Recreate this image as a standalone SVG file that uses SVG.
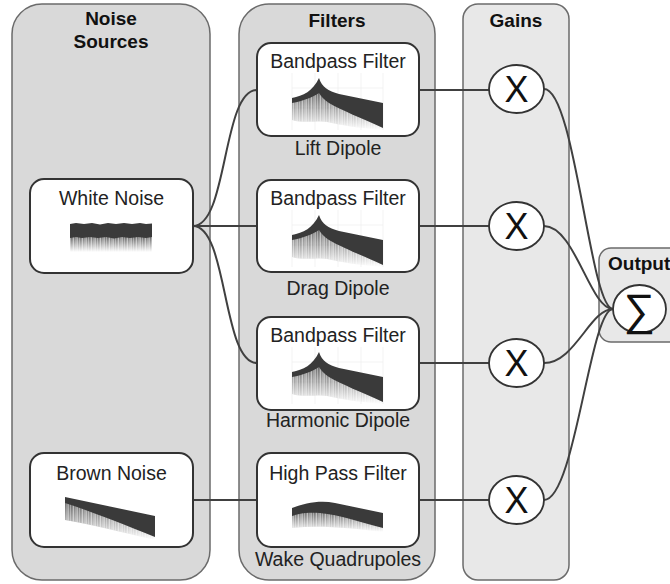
<svg xmlns="http://www.w3.org/2000/svg" width="670" height="584" viewBox="0 0 670 584">
<style>
.cont{fill:#d9d9d9;stroke:#6b6b6b;stroke-width:1.5}
.cont2{fill:#e8e8e8;stroke:#6b6b6b;stroke-width:1.5}
.node{fill:#ffffff;stroke:#333333;stroke-width:2}
.gain{fill:#ffffff;stroke:#333333;stroke-width:1.8}
.title{font-family:"Liberation Sans",Arial,sans-serif;font-weight:bold;font-size:19px;fill:#111;text-anchor:middle}
.lbl{font-family:"Liberation Sans",Arial,sans-serif;font-size:19.5px;fill:#222;text-anchor:middle}
.sym{font-family:"Liberation Sans",Arial,sans-serif;fill:#111;text-anchor:middle}
.wire{fill:none;stroke:#404040;stroke-width:2}
.band{fill:#3a3a3a}
.fringe{fill:url(#fade)}
.streak{fill:url(#streaks)}
.grid{stroke:#f0f0f0;stroke-width:0.8;fill:none}
</style>
<defs>
<linearGradient id="fade" x1="0" y1="0" x2="0" y2="1">
<stop offset="0" stop-color="#3a3a3a" stop-opacity="0.8"/>
<stop offset="1" stop-color="#3a3a3a" stop-opacity="0"/>
</linearGradient>
<pattern id="streaks" patternUnits="userSpaceOnUse" width="9" height="10">
<rect x="0.8" y="0" width="0.9" height="10" fill="#ffffff" fill-opacity="0.7"/>
<rect x="2.9" y="0" width="0.6" height="10" fill="#ffffff" fill-opacity="0.45"/>
<rect x="4.6" y="0" width="1" height="10" fill="#ffffff" fill-opacity="0.65"/>
<rect x="7.0" y="0" width="0.7" height="10" fill="#ffffff" fill-opacity="0.5"/>
</pattern>
<g id="bp">
<path class="grid" d="M-27,-5V52M-4,-5V52M19,-5V52M42,-5V52M64,-5V52M-27,10H64M-27,30H64"/>
<path id="bpf" class="fringe" d="M-27,23 C-15,21 -6,17 0,12 C4,16 10,22 20,27 L64,48 L64,52 C40,50 20,47 8,44 C0,42 -15,46 -27,42 Z"/>
<path class="streak" d="M-27,23 C-15,21 -6,17 0,12 C4,16 10,22 20,27 L64,48 L64,52 C40,50 20,47 8,44 C0,42 -15,46 -27,42 Z"/>
<path class="band" d="M-27,20 C-16,18 -6,13 0,0 C3,9 9,13 20,16 L64,25 L64,50 C42,40 22,32 10,25 C5,22 2,18 0,15 C-6,19 -16,23 -27,25 Z"/>
</g>
</defs>

<g id="noise-sources">
<rect class="cont" x="12" y="4" width="198" height="576" rx="30"/>
<text class="title" x="111" y="25">Noise</text>
<text class="title" x="111" y="48">Sources</text>
</g>
<g id="filters">
<rect class="cont" x="239" y="4" width="196" height="576" rx="30"/>
<text class="title" x="337" y="27">Filters</text>
</g>
<g id="gains">
<rect class="cont2" x="463" y="4" width="106" height="576" rx="15"/>
<text class="title" x="516" y="27">Gains</text>
</g>
<g id="output">
<rect class="cont2" x="599" y="248" width="90" height="94" rx="12"/>
<text class="title" x="608" y="270" style="text-anchor:start">Output</text>
</g>

<g id="connectors">
<path class="wire" d="M193,226 C228,226 222,90 257,90"/>
<path class="wire" d="M193,226 H257"/>
<path class="wire" d="M193,226 C228,226 222,363 257,363"/>
<path class="wire" d="M193,500 H257"/>
<path class="wire" d="M419,90 H490"/>
<path class="wire" d="M419,226 H490"/>
<path class="wire" d="M419,363 H490"/>
<path class="wire" d="M419,500 H490"/>
<path class="wire" d="M544,89 C575,89 590,309 613,309"/>
<path class="wire" d="M544,226 C575,226 590,309 613,309"/>
<path class="wire" d="M544,363 C575,363 590,309 613,309"/>
<path class="wire" d="M544,500 C575,500 590,309 613,309"/>
</g>

<g id="white-noise">
<rect class="node" x="30" y="179" width="163" height="94" rx="14"/>
<text class="lbl" x="111.5" y="205">White Noise</text>
<rect class="fringe" x="70" y="236" width="82" height="16"/>
<rect class="streak" x="70" y="236" width="82" height="16"/>
<path class="band" d="M70,224 L76,223 L84,224 L92,223 L100,224.5 L108,223 L116,224 L124,223 L132,224 L140,223 L146,224 L152,223.5 L152,237 L146,238 L138,237 L130,238 L122,237 L114,238.5 L106,237 L98,238 L90,237 L82,238 L76,237 L70,238 Z"/>
</g>
<g id="brown-noise">
<rect class="node" x="30" y="453" width="163" height="94" rx="14"/>
<text class="lbl" x="111.5" y="480">Brown Noise</text>
<path class="fringe" d="M65,501 C90,508 120,520 155,533 L155,540 C120,532 90,524 65,520 Z"/>
<path class="streak" d="M65,501 C90,508 120,520 155,533 L155,540 C120,532 90,524 65,520 Z"/>
<path class="band" d="M65,497 L155,516 L155,537 C120,523 90,511 65,503 Z"/>
</g>

<g id="lift-filter">
<rect class="node" x="257" y="43" width="162" height="93" rx="14"/>
<text class="lbl" x="338" y="68">Bandpass Filter</text>
<use href="#bp" x="319" y="78"/>
<text class="lbl" x="338" y="155">Lift Dipole</text>
</g>
<g id="drag-filter">
<rect class="node" x="257" y="180" width="162" height="92" rx="14"/>
<text class="lbl" x="338" y="205">Bandpass Filter</text>
<use href="#bp" x="319" y="215"/>
<text class="lbl" x="338" y="295">Drag Dipole</text>
</g>
<g id="harmonic-filter">
<rect class="node" x="257" y="317" width="162" height="93" rx="14"/>
<text class="lbl" x="338" y="342">Bandpass Filter</text>
<use href="#bp" x="319" y="352"/>
<text class="lbl" x="338" y="427">Harmonic Dipole</text>
</g>
<g id="highpass-filter">
<rect class="node" x="257" y="453" width="162" height="94" rx="14"/>
<text class="lbl" x="338" y="480">High Pass Filter</text>
<path class="fringe" d="M292,514 C305,510 320,509 335,511 L383,524 L383,532 C350,528 320,525 292,528 Z"/>
<path class="streak" d="M292,514 C305,510 320,509 335,511 L383,524 L383,532 C350,528 320,525 292,528 Z"/>
<path class="band" d="M292,508 C305,503 320,500 335,503 L383,513 L383,528 C360,522 340,515 320,513 C305,512 298,514 292,516 Z"/>
<text class="lbl" x="338" y="566">Wake Quadrupoles</text>
</g>

<g id="gain-1">
<ellipse class="gain" cx="516.5" cy="89" rx="27.5" ry="24"/>
<text class="sym" x="516.5" y="102" font-size="36">X</text>
</g>
<g id="gain-2">
<ellipse class="gain" cx="516.5" cy="226" rx="27.5" ry="24"/>
<text class="sym" x="516.5" y="239" font-size="36">X</text>
</g>
<g id="gain-3">
<ellipse class="gain" cx="516.5" cy="363" rx="27.5" ry="24"/>
<text class="sym" x="516.5" y="376" font-size="36">X</text>
</g>
<g id="gain-4">
<ellipse class="gain" cx="516.5" cy="500" rx="27.5" ry="24"/>
<text class="sym" x="516.5" y="513" font-size="36">X</text>
</g>
<g id="sum">
<ellipse class="gain" cx="639.5" cy="309" rx="26.5" ry="24"/>
<text class="sym" x="639.5" y="325" font-size="44">∑</text>
</g>
</svg>
